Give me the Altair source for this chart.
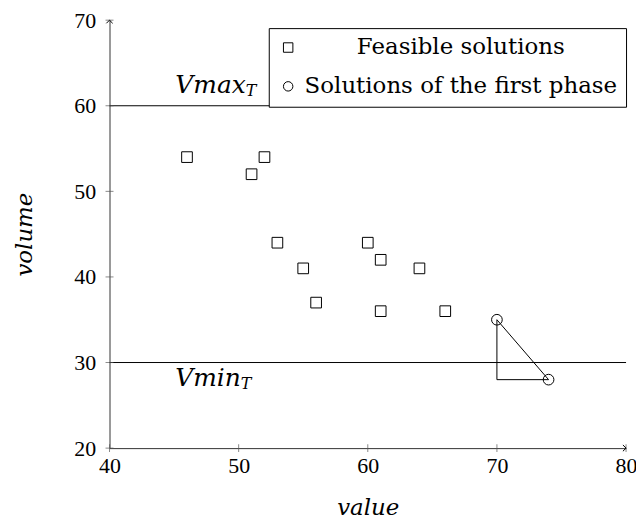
import altair as alt
import pandas as pd

# Feasible solutions (squares)
feas_value = [46, 51, 52, 53, 55, 56, 60, 61, 61, 64, 66]
feas_volume = [54, 52, 54, 44, 41, 37, 44, 42, 36, 41, 36]
# Solutions of the first phase (circles)
first_value = [70, 74]
first_volume = [35, 28]
# Triangle path drawn between the first-phase solutions
tri_value = [70, 74, 70, 70]
tri_volume = [35, 28, 28, 35]
# Bounds
bound_volume = [60, 30]
# Axis ticks
x_ticks = [40, 50, 60, 70, 80]
y_ticks = [20, 30, 40, 50, 60, 70]

G1 = "Feasible solutions"
G2 = "Solutions of the first phase"

pts = pd.DataFrame({
    "value": feas_value + first_value,
    "volume": feas_volume + first_volume,
    "group": [G1] * len(feas_value) + [G2] * len(first_value),
})
tri = pd.DataFrame({"value": tri_value, "volume": tri_volume, "k": list(range(len(tri_value)))})
bounds = pd.DataFrame({"volume": bound_volume})
xt = pd.DataFrame({"value": x_ticks, "volume": [y_ticks[0]] * len(x_ticks)})
yt = pd.DataFrame({"value": [x_ticks[0]] * len(y_ticks), "volume": y_ticks})

xs = alt.Scale(domain=[40, 80], nice=False, zero=False)
ys = alt.Scale(domain=[20, 70], nice=False, zero=False)

X = alt.X("value:Q", scale=xs,
          axis=alt.Axis(values=x_ticks, title="value", ticks=False, labelPadding=8,
                        titlePadding=20, labelFlush=False, labelOverlap=False))
Y = alt.Y("volume:Q", scale=ys,
          axis=alt.Axis(values=y_ticks, title="volume", ticks=False, labelPadding=14,
                        titlePadding=37, labelFlush=False, labelOverlap=False))

points = alt.Chart(pts).mark_point(filled=False, color="black", strokeWidth=1, opacity=1,
                                   size=115).encode(
    x=X, y=Y,
    shape=alt.Shape("group:N", scale=alt.Scale(domain=[G1, G2], range=["square", "circle"]),
                    legend=alt.Legend(title=None, orient="none", legendX=160, legendY=8,
                                      strokeColor="black", fillColor="white", padding=8,
                                      labelFont="DejaVu Serif", labelFontSize=23,
                                      labelColor="black", labelAlign="center",
                                      labelOffset=162, labelLimit=0, rowPadding=15,
                                      symbolStrokeColor="black", symbolStrokeWidth=1,
                                      symbolSize=90, cornerRadius=0)),
)

triangle = alt.Chart(tri).mark_line(color="black", strokeWidth=1).encode(
    x=alt.X("value:Q", scale=xs), y=alt.Y("volume:Q", scale=ys), order="k:Q")

rules = alt.Chart(bounds).mark_rule(color="black", strokeWidth=1).encode(
    y=alt.Y("volume:Q", scale=ys))

xtick = alt.Chart(xt).mark_tick(orient="vertical", color="#555", size=8, thickness=1).encode(
    x=alt.X("value:Q", scale=xs), y=alt.Y("volume:Q", scale=ys))
ytick = alt.Chart(yt).mark_tick(orient="horizontal", color="#555", size=8, thickness=1).encode(
    x=alt.X("value:Q", scale=xs), y=alt.Y("volume:Q", scale=ys))

arrow_x = alt.Chart(pd.DataFrame({"value": [80], "volume": [20]})).mark_point(
    shape="M-1,-1L0,0L-1,1", filled=False, color="black", size=40, strokeWidth=1, opacity=1
).encode(x=alt.X("value:Q", scale=xs), y=alt.Y("volume:Q", scale=ys))
arrow_y = alt.Chart(pd.DataFrame({"value": [40], "volume": [70]})).mark_point(
    shape="M-1,1L0,0L1,1", filled=False, color="black", size=40, strokeWidth=1, opacity=1
).encode(x=alt.X("value:Q", scale=xs), y=alt.Y("volume:Q", scale=ys))

lab = pd.DataFrame({"value": [50.55, 50.55], "volume": bound_volume,
                    "main": ["Vmax", "Vmin"]})
main_max = alt.Chart(lab.iloc[[0]]).mark_text(
    align="right", baseline="alphabetic", dy=-13, font="DejaVu Serif", fontStyle="italic",
    fontSize=25, color="black").encode(
    x=alt.X("value:Q", scale=xs), y=alt.Y("volume:Q", scale=ys), text="main:N")
sub_max = alt.Chart(lab.iloc[[0]]).mark_text(
    align="left", baseline="alphabetic", dy=-10, font="DejaVu Serif", fontStyle="italic",
    fontSize=16, color="black", text="T").encode(
    x=alt.X("value:Q", scale=xs), y=alt.Y("volume:Q", scale=ys))
main_min = alt.Chart(lab.iloc[[1]]).mark_text(
    align="right", baseline="alphabetic", dy=24, dx=-5, font="DejaVu Serif", fontStyle="italic",
    fontSize=25, color="black").encode(
    x=alt.X("value:Q", scale=xs), y=alt.Y("volume:Q", scale=ys), text="main:N")
sub_min = alt.Chart(lab.iloc[[1]]).mark_text(
    align="left", baseline="alphabetic", dy=27, dx=-5, font="DejaVu Serif", fontStyle="italic",
    fontSize=16, color="black", text="T").encode(
    x=alt.X("value:Q", scale=xs), y=alt.Y("volume:Q", scale=ys))

chart = alt.layer(rules, triangle, xtick, ytick, arrow_x, arrow_y, points,
                  main_max, sub_max, main_min, sub_min).properties(
    width=519, height=430,
    autosize=alt.AutoSizeParams(type="none"),
    padding={"left": 102, "top": 11, "right": 10, "bottom": 70},
).configure_view(stroke=None).configure_axis(
    grid=False, domainColor="#333", domainWidth=1,
    labelFont="Liberation Serif", labelFontSize=22, labelColor="black",
    titleFont="DejaVu Serif", titleFontStyle="italic", titleFontWeight="normal",
    titleFontSize=23, titleColor="black",
)

chart.save("out.html", embed_options={"renderer": "svg", "actions": False})
